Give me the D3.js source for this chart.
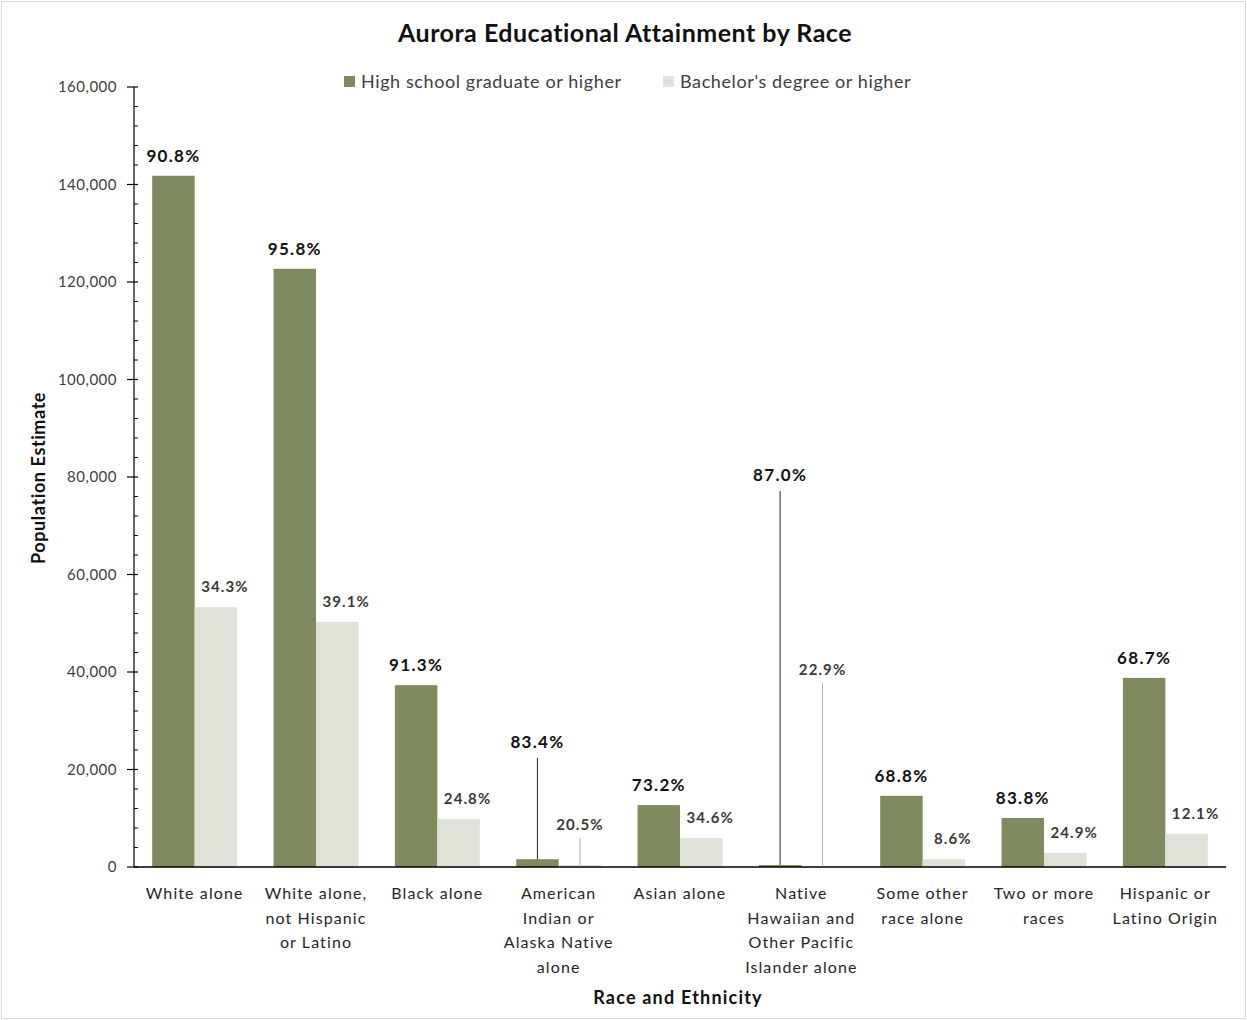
<!DOCTYPE html>
<html>
<head>
<meta charset="utf-8">
<script src="https://cdn.jsdelivr.net/npm/d3@7"></script>
<style>
  html, body { margin: 0; padding: 0; background: #fff; }
  svg { display: block; font-family: Lato, "Open Sans", "Liberation Sans", sans-serif; }
</style>
</head>
<body>
<svg id="chart" width="1247" height="1020"></svg>
<script>
// Race / ethnicity groups (wrapped lines for the axis labels)
const categories = [
  ["White alone"],
  ["White alone,", "not Hispanic", "or Latino"],
  ["Black alone"],
  ["American", "Indian or", "Alaska Native", "alone"],
  ["Asian alone"],
  ["Native", "Hawaiian and", "Other Pacific", "Islander alone"],
  ["Some other", "race alone"],
  ["Two or more", "races"],
  ["Hispanic or", "Latino Origin"]
];

const seriesNames = ["High school graduate or higher", "Bachelor's degree or higher"];

// Population estimates, 25 years and over
const hsValues = [141800, 122700, 37300, 1600, 12700, 400, 14600, 10050, 38800];
const baValues = [53300, 50300, 9850, 400, 5950, 100, 1600, 2900, 6800];

// Share of each group reaching the level
const hsPct = ["90.8%", "95.8%", "91.3%", "83.4%", "73.2%", "87.0%", "68.8%", "83.8%", "68.7%"];
const baPct = ["34.3%", "39.1%", "24.8%", "20.5%", "34.6%", "22.9%", "8.6%", "24.9%", "12.1%"];

const yTicks = [0, 20000, 40000, 60000, 80000, 100000, 120000, 140000, 160000];

// Labels for very small bars are lifted to these heights with a leader line
const callouts = {
  3: { hs: 22400, ba: 5900 },
  5: { hs: 77100, ba: 37700 }
};

const colors = { hs: "#7F8B5E", ba: "#DFE2D9" };

const svg = d3.select("#chart");
const W = 1247, H = 1020;
const plotLeft = 134, plotRight = 1226, plotTop = 87, plotBottom = 867;

svg.append("rect")
  .attr("x", 1.5).attr("y", 1.5).attr("width", W - 3).attr("height", H - 3)
  .attr("fill", "#fff").attr("stroke", "#d9d9d9");

const keys = categories.map((c, i) => i);
const x0 = d3.scaleBand().domain(keys).range([plotLeft, plotRight]).paddingInner(0.3).paddingOuter(0.15);
const x1 = d3.scaleBand().domain(["hs", "ba"]).range([0, x0.bandwidth()]);
const y = d3.scaleLinear().domain([0, 160000]).range([plotBottom, plotTop]);

// Title
svg.append("text")
  .attr("x", 625).attr("y", 42).attr("text-anchor", "middle")
  .attr("font-size", 25).attr("font-weight", 700).attr("fill", "#111")
  .attr("letter-spacing", 0.5)
  .text("Aurora Educational Attainment by Race");

// Legend
const legend = svg.append("g");
const legendItems = [
  { key: "hs", x: 344, label: seriesNames[0] },
  { key: "ba", x: 663, label: seriesNames[1] }
];
legendItems.forEach(d => {
  legend.append("rect").attr("x", d.x).attr("y", 76).attr("width", 11).attr("height", 11)
    .attr("fill", colors[d.key]);
  legend.append("text").attr("x", d.x + 17).attr("y", 88)
    .attr("font-size", 18).attr("letter-spacing", 0.6).attr("fill", "#404040").text(d.label);
});

// Y axis with minor ticks every 4,000
const yAxis = svg.append("g").attr("transform", `translate(${plotLeft},0)`);
yAxis.append("line").attr("x1", 0).attr("x2", 0).attr("y1", plotTop).attr("y2", plotBottom)
  .attr("stroke", "#000").attr("stroke-width", 1.2);
const minor = d3.range(0, 160001, 4000).filter(v => v % 20000 !== 0);
yAxis.selectAll(".minor").data(minor).join("line")
  .attr("x1", 0).attr("x2", 4).attr("y1", d => y(d)).attr("y2", d => y(d))
  .attr("stroke", "#000");
yAxis.selectAll(".major").data(yTicks).join("line")
  .attr("x1", -7).attr("x2", 4).attr("y1", d => y(d)).attr("y2", d => y(d))
  .attr("stroke", "#000").attr("stroke-width", 1.2);
yAxis.selectAll(".tl").data(yTicks).join("text")
  .attr("x", -17).attr("y", d => y(d) + 5).attr("text-anchor", "end")
  .attr("font-size", 15).attr("letter-spacing", 0.5).attr("fill", "#404040")
  .text(d => d3.format(",")(d));

svg.append("text")
  .attr("transform", `translate(45,${478}) rotate(-90)`)
  .attr("text-anchor", "middle").attr("font-size", 18).attr("font-weight", 700)
  .attr("letter-spacing", 0.6).attr("fill", "#111")
  .text("Population Estimate");

// Bars
const rows = keys.map(i => ({ i, hs: hsValues[i], ba: baValues[i] }));
const groups = svg.append("g").selectAll("g").data(rows).join("g")
  .attr("transform", d => `translate(${x0(d.i)},0)`);
groups.selectAll("rect").data(d => ["hs", "ba"].map(k => ({ k, v: d[k] }))).join("rect")
  .attr("x", d => x1(d.k)).attr("width", x1.bandwidth())
  .attr("y", d => y(d.v)).attr("height", d => plotBottom - y(d.v))
  .attr("fill", d => colors[d.k]);

// X axis baseline
svg.append("line").attr("x1", plotLeft).attr("x2", plotRight).attr("y1", plotBottom).attr("y2", plotBottom)
  .attr("stroke", "#000").attr("stroke-width", 1.5);

// Value labels
const labels = svg.append("g");
const hsLabel = (x, yy, t) => labels.append("text").attr("x", x).attr("y", yy)
  .attr("text-anchor", "middle").attr("font-size", 17).attr("font-weight", 700)
  .attr("letter-spacing", 1.3).attr("fill", "#111").text(t);
const baLabel = (x, yy, t) => labels.append("text").attr("x", x).attr("y", yy)
  .attr("text-anchor", "middle").attr("font-size", 15).attr("font-weight", 700)
  .attr("letter-spacing", 1.1).attr("fill", "#3a3a3a").text(t);
rows.forEach(d => {
  const cx = x0(d.i);
  const hsX = cx + x1("hs") + x1.bandwidth() / 2;
  const baX = cx + x1("ba") + x1.bandwidth() / 2;
  const c = callouts[d.i];
  if (c) {
    labels.append("line").attr("x1", hsX).attr("x2", hsX).attr("y1", y(c.hs)).attr("y2", y(d.hs))
      .attr("stroke", "#222").attr("stroke-width", 1);
    labels.append("line").attr("x1", baX).attr("x2", baX).attr("y1", y(c.ba)).attr("y2", y(d.ba))
      .attr("stroke", "#aaa").attr("stroke-width", 1);
    hsLabel(hsX, y(c.hs) - 10, hsPct[d.i]);
    baLabel(baX, y(c.ba) - 8, baPct[d.i]);
  } else {
    hsLabel(hsX, y(d.hs) - 14, hsPct[d.i]);
    baLabel(baX + 9, y(d.ba) - 15, baPct[d.i]);
  }
});

// Category labels
const xl = svg.append("g");
categories.forEach((lines, i) => {
  const t = xl.append("text").attr("text-anchor", "middle")
    .attr("font-size", 16).attr("fill", "#262626").attr("letter-spacing", 1.1);
  lines.forEach((ln, j) => {
    t.append("tspan").attr("x", x0(i) + x0.bandwidth() / 2).attr("y", 899 + j * 24.5).text(ln);
  });
});

svg.append("text")
  .attr("x", 678).attr("y", 1004).attr("text-anchor", "middle")
  .attr("font-size", 18).attr("font-weight", 700).attr("letter-spacing", 1.2).attr("fill", "#111")
  .text("Race and Ethnicity");
</script>
</body>
</html>
